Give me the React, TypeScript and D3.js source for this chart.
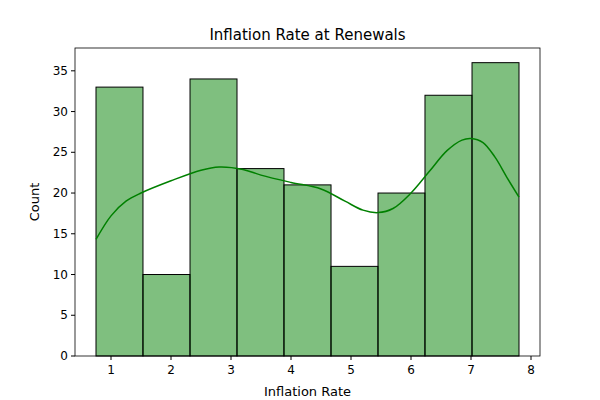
import React from "react";
import * as d3 from "d3";

const binEdges = [0.75, 1.533, 2.317, 3.1, 3.883, 4.667, 5.45, 6.233, 7.017, 7.8];
const counts = [33, 10, 34, 23, 21, 11, 20, 32, 36];
const kdeX = [0.75, 1.0, 1.25, 1.5, 2.0, 2.5, 2.8, 3.2, 3.5, 4.0, 4.5, 4.9, 5.2, 5.45, 5.7, 6.0, 6.3, 6.6, 6.85, 7.0, 7.2, 7.4, 7.6, 7.8];
const kdeY = [14.3, 17.2, 19.0, 20.0, 21.5, 22.8, 23.2, 22.9, 22.2, 21.3, 20.5, 19.0, 17.9, 17.6, 18.1, 20.0, 22.6, 25.2, 26.5, 26.7, 26.2, 24.4, 21.9, 19.5];
const xTicks = [1, 2, 3, 4, 5, 6, 7, 8];
const yTicks = [0, 5, 10, 15, 20, 25, 30, 35];

export default function App() {
  const W = 600, H = 400;
  const L = 75, R = 540, T = 48, B = 356;
  const x = d3.scaleLinear().domain([0.4, 8.15]).range([L, R]);
  const y = d3.scaleLinear().domain([0, 37.8]).range([B, T]);
  const line = d3.line<number>().x((_, i) => x(kdeX[i])).y((d) => y(d)).curve(d3.curveCatmullRom);
  const font = "DejaVu Sans, sans-serif";
  return (
    <svg width={W} height={H} style={{ position: "absolute", left: 0, top: 0, background: "#fff" }} fontFamily={font}>
      {counts.map((c, i) => (
        <rect key={i} x={x(binEdges[i])} y={y(c)} width={x(binEdges[i + 1]) - x(binEdges[i])} height={B - y(c)}
          fill="rgba(0,128,0,0.5)" stroke="#000" strokeWidth={1} />
      ))}
      <path d={line(kdeY) || ""} fill="none" stroke="green" strokeWidth={1.5} />
      <rect x={L} y={T} width={R - L} height={B - T} fill="none" stroke="#000" strokeWidth={0.8} />
      {xTicks.map((t) => (
        <g key={t}>
          <line x1={x(t)} x2={x(t)} y1={B} y2={B + 4} stroke="#000" />
          <text x={x(t)} y={B + 18} textAnchor="middle" fontSize={12}>{t}</text>
        </g>
      ))}
      {yTicks.map((t) => (
        <g key={t}>
          <line x1={L - 4} x2={L} y1={y(t)} y2={y(t)} stroke="#000" />
          <text x={L - 7} y={y(t) + 4} textAnchor="end" fontSize={12}>{t}</text>
        </g>
      ))}
      <text x={(L + R) / 2} y={396} textAnchor="middle" fontSize={13}>Inflation Rate</text>
      <text transform={`translate(39,${(T + B) / 2}) rotate(-90)`} textAnchor="middle" fontSize={13}>Count</text>
      <text x={(L + R) / 2} y={40} textAnchor="middle" fontSize={15}>Inflation Rate at Renewals</text>
    </svg>
  );
}
